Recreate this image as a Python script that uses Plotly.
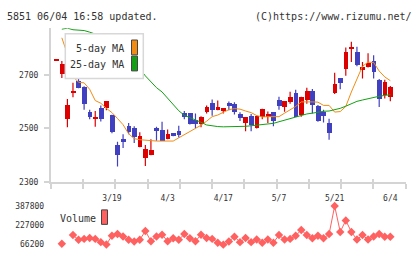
import plotly.graph_objects as go
import numpy as np

# ---------------- data ----------------
opens = [2754, 2702, 2536, 2636, 2678, 2655, 2562, 2540, 2574, 2574,
         2550, 2438, 2460, 2510, 2501, 2430, 2391, 2400, 2502, 2492,
         2460, 2482, 2489, 2556, 2556, 2532, 2516, 2562, 2596, 2568,
         2568, 2596, 2592, 2552, 2520, 2546, 2501, 2544, 2544, 2560,
         2604, 2580, 2598, 2633, 2550, 2604, 2640, 2582, 2561, 2520,
         2630, 2686, 2720, 2801, 2784, 2718, 2730, 2750, 2679, 2626, 2616]
highs = [2754, 2751, 2610, 2670, 2700, 2657, 2570, 2565, 2586, 2601,
         2551, 2450, 2478, 2520, 2508, 2486, 2438, 2460, 2506, 2525,
         2496, 2483, 2510, 2565, 2557, 2556, 2545, 2586, 2608, 2604,
         2575, 2600, 2598, 2560, 2543, 2554, 2548, 2573, 2563, 2561,
         2618, 2601, 2637, 2644, 2618, 2652, 2647, 2587, 2570, 2536,
         2708, 2687, 2802, 2823, 2805, 2748, 2780, 2773, 2684, 2682, 2658]
lows = [2754, 2688, 2504, 2616, 2650, 2570, 2534, 2506, 2526, 2568,
        2482, 2358, 2427, 2478, 2446, 2430, 2360, 2400, 2454, 2453,
        2460, 2471, 2466, 2534, 2515, 2502, 2504, 2556, 2547, 2568,
        2556, 2568, 2552, 2528, 2490, 2490, 2500, 2534, 2520, 2508,
        2570, 2562, 2592, 2543, 2544, 2592, 2556, 2525, 2522, 2458,
        2628, 2646, 2696, 2748, 2732, 2686, 2727, 2686, 2580, 2612, 2601]
closes = [2754, 2738, 2586, 2636, 2652, 2592, 2544, 2540, 2536, 2600,
          2486, 2402, 2450, 2486, 2466, 2472, 2424, 2418, 2490, 2454,
          2478, 2472, 2474, 2544, 2516, 2516, 2544, 2578, 2570, 2578,
          2574, 2582, 2562, 2540, 2542, 2514, 2546, 2572, 2552, 2526,
          2583, 2600, 2618, 2544, 2615, 2640, 2588, 2526, 2547, 2484,
          2664, 2670, 2784, 2801, 2736, 2730, 2744, 2709, 2609, 2672, 2654]
ma5 = [None, 2838, 2777, 2694, 2672, 2670, 2646, 2604, 2594, 2575,
       2559, 2537, 2514, 2480, 2462, 2458, 2456, 2454, 2453, 2453,
       2453, 2453, 2465, 2476, 2490, 2501, 2512, 2527, 2544, 2550,
       2561, 2570, 2574, 2572, 2565, 2559, 2548, 2543, 2544, 2544,
       2544, 2557, 2570, 2582, 2599, 2600, 2599, 2598, 2586, 2586,
       2561, 2563, 2582, 2636, 2687, 2732, 2747, 2746, 2714, 2692, 2678]
ma25 = [None, 2870, 2874, 2868, 2866, 2865, 2859, 2852, 2841, 2831,
        2816, 2802, 2784, 2766, 2744, 2723, 2696, 2674, 2652, 2636,
        2613, 2586, 2566, 2549, 2541, 2532, 2523, 2513, 2509, 2507,
        2506, 2506, 2506, 2506, 2508, 2510, 2512, 2513, 2516, 2519,
        2525, 2531, 2537, 2543, 2548, 2554, 2557, 2561, 2564, 2565,
        2569, 2575, 2583, 2592, 2601, 2606, 2611, 2616, 2620, 2623, 2626]
volume = [None, 74200, None, 146000, 106100, 114100, 122100, 114100, 87000, 68000,
          140400, 154000, 134800, 106100, 92500, 106100, 180300, 94900, 134800, 148400,
          94900, 118900, 106100, 154000, 118900, 94900, 148400, 122100, 114100, 82200,
          66200, 92500, 132400, 87000, 122100, 87000, 108500, 82200, 108500, 82200,
          146000, 108500, 114100, 140400, 188300, 146000, 118900, 140400, 118900, 154000,
          387800, 172300, 268100, 172300, 108500, 146000, 108500, 134800, 154000, 132400, 132400]
label_idx = [10, 20, 30, 40, 50, 60]
label_text = ["3/19", "4/3", "4/17", "5/7", "5/21", "6/4"]
price_ticks = [2300, 2500, 2700]
vol_ticks = [66200, 227000, 387800]
vol_tick_text = ["66200", "227000", "387800"]

# ---------------- style ----------------
W, H = 420, 259
RED = "#dd0000"
BLUE = "#4040c0"
ORANGE = "#f08c14"
GREEN = "#12a012"
VOLC = "#ff6060"
AXC = "#d4d4d4"
TXT = "#333333"
MONO = "DejaVu Sans Mono"


def px(x):
    return x / W


def py(y):
    return 1 - y / H


x = list(range(len(opens)))
XMIN, XMAX = -1.0, 62.76
grid_ticks = list(np.linspace(XMIN, XMAX, 12))

up = [c >= o for o, c in zip(opens, closes)]
body_h = [max(abs(c - o), 3.6) for o, c in zip(opens, closes)]
body_base = [min(o, c) - (bh - abs(c - o)) / 2 for o, c, bh in zip(opens, closes, body_h)]
colors = [RED if u else BLUE for u in up]

fig = go.Figure()

# wicks
for col, flag in ((RED, True), (BLUE, False)):
    wx, wy = [], []
    for i in x:
        if up[i] == flag:
            wx += [i, i, None]
            wy += [lows[i], highs[i], None]
    fig.add_trace(go.Scatter(x=wx, y=wy, mode="lines", line=dict(color=col, width=1.2),
                             xaxis="x", yaxis="y", hoverinfo="skip", showlegend=False))

# bodies
fig.add_trace(go.Bar(x=x, y=body_h, base=body_base, width=0.86,
                     marker=dict(color=colors, line=dict(width=0)),
                     xaxis="x", yaxis="y", showlegend=False))

# moving averages
fig.add_trace(go.Scatter(x=x, y=ma25, mode="lines", line=dict(color=GREEN, width=1),
                         xaxis="x3", yaxis="y", cliponaxis=False, showlegend=False))
fig.add_trace(go.Scatter(x=x, y=ma5, mode="lines", line=dict(color=ORANGE, width=1),
                         xaxis="x2", yaxis="y", cliponaxis=False, showlegend=False))

# volume
fig.add_trace(go.Scatter(x=x, y=volume, mode="lines+markers",
                         line=dict(color=VOLC, width=1),
                         marker=dict(symbol="diamond", size=6.5, color=VOLC),
                         xaxis="x", yaxis="y2", cliponaxis=False, showlegend=False))

main_dom = [py(184.5), py(25)]
vol_dom = [py(249.3), py(209.3)]
xdom = [px(50.7), px(405.7)]

fig.update_layout(
    width=W, height=H,
    margin=dict(l=0, r=0, t=0, b=0),
    paper_bgcolor="white", plot_bgcolor="rgba(0,0,0,0)",
    barmode="overlay", bargap=0,
    showlegend=False,
    font=dict(family=MONO, color=TXT, size=8),
    xaxis=dict(domain=xdom, range=[XMIN, XMAX], anchor="y",
               showgrid=False, zeroline=False, showline=True, linecolor=AXC, linewidth=1.5,
               tickmode="array", tickvals=grid_ticks, ticks="outside", ticklen=5,
               tickcolor=AXC, tickwidth=1.5, showticklabels=False, fixedrange=True),
    xaxis2=dict(domain=xdom, range=[XMIN, XMAX], anchor="y", overlaying="x",
                showgrid=False, zeroline=False, showline=False,
                tickmode="array", tickvals=label_idx, ticktext=label_text,
                ticks="outside", ticklen=8, tickcolor="rgba(0,0,0,0)",
                tickfont=dict(family=MONO, size=8, color=TXT)),
    xaxis3=dict(domain=xdom, range=[XMIN, XMAX], anchor="y", overlaying="x",
                showgrid=False, zeroline=False, showline=False,
                tickmode="array", tickvals=grid_ticks, ticks="inside", ticklen=3,
                tickcolor=AXC, tickwidth=1.5, showticklabels=False),
    yaxis=dict(domain=main_dom, range=[2300, 2874], anchor="x",
               showgrid=False, zeroline=False, showline=True, linecolor=AXC, linewidth=1.5,
               tickmode="array", tickvals=price_ticks, ticks="outside", ticklen=5,
               tickcolor=AXC, tickwidth=1.5, ticklabelstandoff=4,
               tickfont=dict(family=MONO, size=8, color=TXT)),
    yaxis2=dict(domain=vol_dom, range=[66200, 387800], anchor="x",
                showgrid=False, zeroline=False, showline=False,
                tickmode="array", tickvals=vol_ticks, ticktext=vol_tick_text,
                ticks="outside", ticklen=4, tickcolor="rgba(0,0,0,0)",
                tickfont=dict(family=MONO, size=8, color=TXT)),
)

shapes = [
    dict(type="rect", xref="paper", yref="paper", x0=px(65.3), x1=px(143.3), y0=py(77.3), y1=py(30.7),
         line=dict(color="#d8d8d8", width=1.5), fillcolor="white", layer="above"),
    dict(type="rect", xref="paper", yref="paper", x0=px(131.5), x1=px(137.5), y0=py(52.7), y1=py(37.3),
         line=dict(color="#444444", width=1), fillcolor=ORANGE, layer="above"),
    dict(type="rect", xref="paper", yref="paper", x0=px(131.5), x1=px(137.5), y0=py(69.3), y1=py(54),
         line=dict(color="#444444", width=1), fillcolor=GREEN, layer="above"),
    dict(type="rect", xref="paper", yref="paper", x0=px(101.5), x1=px(107.5), y0=py(228.3), y1=py(213.3),
         line=dict(color="#444444", width=1), fillcolor=VOLC, layer="above"),
]
annots = [
    dict(text="5851 06/04 16:58 updated.", x=px(5), y=py(13), xanchor="left", yanchor="middle"),
    dict(text="(C)https://www.rizumu.net/", x=px(414), y=py(13), xanchor="right", yanchor="middle"),
    dict(text="5-day MA", x=px(125.5), y=py(46), xanchor="right", yanchor="middle"),
    dict(text="25-day MA", x=px(125.5), y=py(62.5), xanchor="right", yanchor="middle"),
    dict(text="Volume", x=px(57.5), y=py(222), xanchor="left", yanchor="middle"),
]
for a in annots:
    a.update(xref="paper", yref="paper", showarrow=False,
             font=dict(family=MONO, size=10, color=TXT))

fig.update_layout(shapes=shapes, annotations=annots)

fig.write_html("out.html")
